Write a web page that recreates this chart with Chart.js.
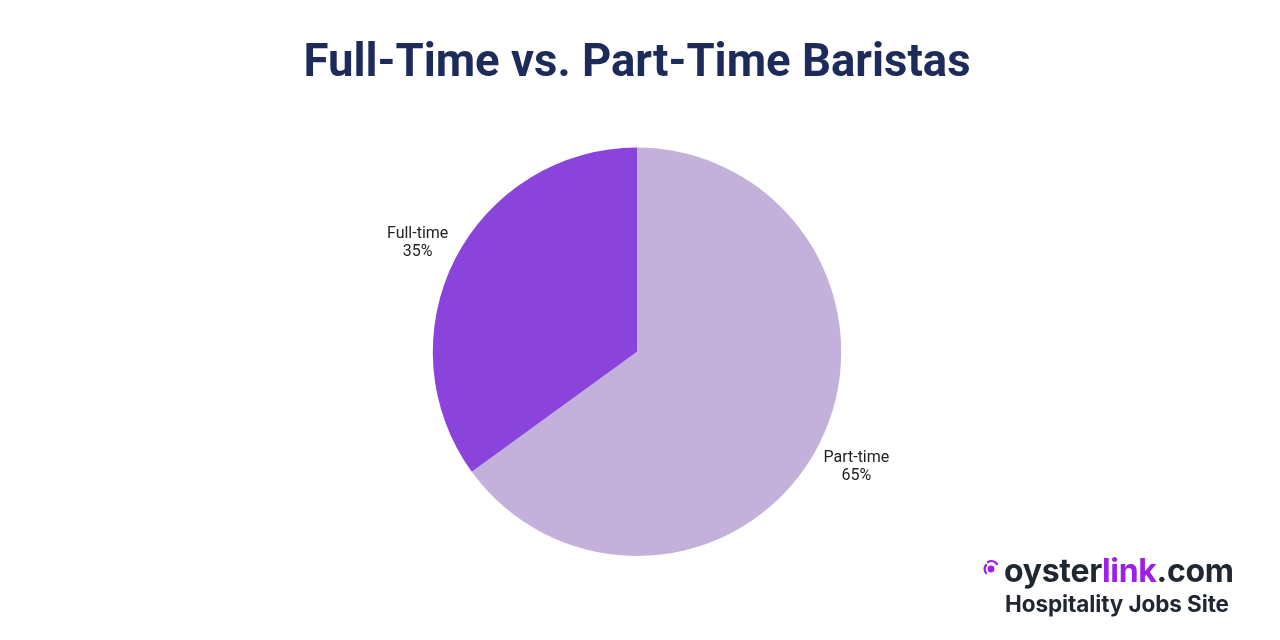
<!DOCTYPE html>
<html>
<head>
<meta charset="utf-8">
<script src="https://cdn.jsdelivr.net/npm/chart.js@4.4.1/dist/chart.umd.min.js"></script>
<style>
  html, body { margin: 0; padding: 0; background: #fff; }
  #wrap { position: relative; width: 1280px; height: 640px; }
  #logo { position: absolute; left: 982px; top: 553px; font-family: Inter, Roboto, sans-serif; font-weight: 700; color: #1f2733; }
  #logo .site { font-size: 32px; letter-spacing: -0.3px; line-height: 36px; display: flex; align-items: center; }
  #logo .site .link { color: #a01fe8; }
  #logo .tag { font-size: 22.5px; line-height: 28px; margin-left: 23px; margin-top: 1px; letter-spacing: -0.1px; }
</style>
</head>
<body>
<div id="wrap">
  <canvas id="chart" width="1280" height="640"></canvas>
  <div id="logo">
    <div class="site">
      <svg width="20" height="20" viewBox="0 0 20 20" style="margin-right:2px;margin-top:-6px">
        <circle cx="9" cy="11" r="3.4" fill="#a01fe8"/>
        <path d="M4 15 A7 7 0 0 1 4 7" stroke="#a01fe8" stroke-width="2.2" fill="none" stroke-linecap="round"/>
        <path d="M6 4 A7 7 0 0 1 15 6" stroke="#a01fe8" stroke-width="2.2" fill="none" stroke-linecap="round"/>
      </svg>
      <span>oyster</span><span class="link">link</span><span>.com</span>
    </div>
    <div class="tag">Hospitality Jobs Site</div>
  </div>
</div>
<script>
const categories = ['Part-time', 'Full-time'];
const shares = [65, 35];
const colors = ['#c3b1db', '#8a44dc'];

// draw "name\nvalue%" just outside each slice, at its mid-angle
const outsideLabels = {
  id: 'outsideLabels',
  afterDatasetsDraw(chart) {
    const ctx = chart.ctx;
    const meta = chart.getDatasetMeta(0);
    ctx.save();
    ctx.font = '16px Roboto';
    ctx.fillStyle = '#222';
    ctx.textAlign = 'center';
    ctx.textBaseline = 'middle';
    meta.data.forEach((arc, i) => {
      const p = arc.getProps(['x', 'y', 'startAngle', 'endAngle', 'outerRadius'], true);
      const mid = (p.startAngle + p.endAngle) / 2;
      const r = p.outerRadius + 42;
      const x = p.x + Math.cos(mid) * r;
      const y = p.y + Math.sin(mid) * r;
      ctx.fillText(categories[i], x, y - 6);
      ctx.fillText(shares[i] + '%', x, y + 12);
    });
    ctx.restore();
  }
};

new Chart(document.getElementById('chart'), {
  type: 'pie',
  data: {
    labels: categories,
    datasets: [{
      data: shares,
      backgroundColor: colors,
      borderWidth: 0
    }]
  },
  options: {
    responsive: false,
    animation: false,
    layout: { padding: { left: 0, right: 6, top: 0, bottom: 84 } },
    plugins: {
      legend: { display: false },
      tooltip: { enabled: false },
      title: {
        display: true,
        text: 'Full-Time vs. Part-Time Baristas',
        color: '#1c2b5a',
        font: { family: 'Roboto', size: 45.5, weight: 'bold' },
        padding: { top: 37, bottom: 56 }
      }
    }
  },
  plugins: [outsideLabels]
});
</script>
</body>
</html>
